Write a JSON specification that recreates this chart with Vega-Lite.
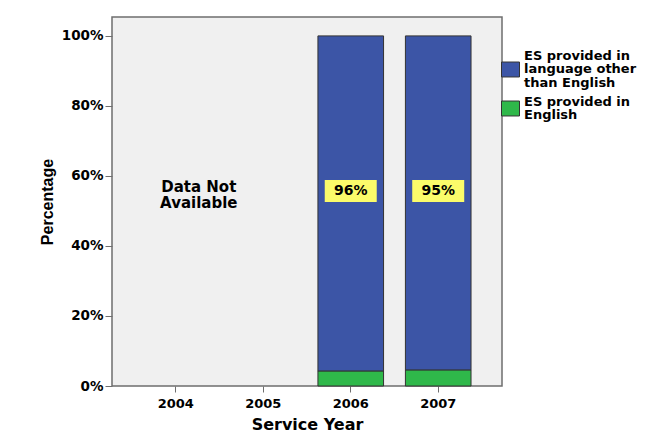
{
  "$schema": "https://vega.github.io/schema/vega-lite/v6.json",
  "width": 390,
  "height": 369,
  "autosize": "none",
  "padding": {"left": 112, "top": 17, "right": 165, "bottom": 56},
  "background": "white",
  "config": {
    "font": "DejaVu Sans",
    "view": {"fill": "#f0f0f0", "stroke": "#6e6e6e", "strokeWidth": 1.5},
    "style": {"guide-label": {"lineHeight": 13.7}}
  },
  "datasets": {
    "bars": [
      {"Year": "2004", "Type": "ES provided in language other than English", "Pct": null},
      {"Year": "2005", "Type": "ES provided in language other than English", "Pct": null},
      {"Year": "2006", "Type": "ES provided in English", "Pct": 4.3},
      {"Year": "2006", "Type": "ES provided in language other than English", "Pct": 95.7},
      {"Year": "2007", "Type": "ES provided in English", "Pct": 4.6},
      {"Year": "2007", "Type": "ES provided in language other than English", "Pct": 95.4}
    ],
    "labels": [
      {"Year": "2006", "label": "96%"},
      {"Year": "2007", "label": "95%"}
    ],
    "note": [
      {"Year": "2004"}
    ]
  },
  "encoding": {
    "x": {
      "field": "Year", "type": "nominal",
      "scale": {"domain": ["2004", "2005", "2006", "2007"], "paddingInner": 0.25, "paddingOuter": 0.354},
      "axis": {
        "title": "Service Year", "labelAngle": 0, "labelFontSize": 13, "labelFontWeight": "bold",
        "labelColor": "#000", "labelPadding": 5, "titleFontSize": 16, "titleFontWeight": "bold",
        "titleColor": "#000", "titlePadding": 6, "tickColor": "#6e6e6e", "tickSize": 6,
        "domain": false
      }
    }
  },
  "layer": [
    {
      "data": {"name": "bars"},
      "mark": {"type": "bar", "stroke": "#333", "strokeWidth": 1},
      "encoding": {
        "y": {
          "field": "Pct", "type": "quantitative", "stack": "zero",
          "scale": {"domain": [0, 105.4], "nice": false, "zero": true},
          "axis": {
            "title": "Percentage", "values": [0, 20, 40, 60, 80, 100],
            "labelExpr": "datum.value + '%'", "grid": false, "domain": false,
            "labelFontSize": 13.5, "labelFontWeight": "bold", "labelColor": "#000",
            "tickColor": "#6e6e6e", "tickSize": 7, "labelPadding": 2,
            "titleFont": "Liberation Sans", "titleFontSize": 16, "titleFontWeight": "bold", "titleColor": "#000", "titlePadding": 6
          }
        },
        "color": {
          "field": "Type", "type": "nominal",
          "scale": {
            "domain": ["ES provided in language other than English", "ES provided in English"],
            "range": ["#3c55a6", "#2fb84a"]
          },
          "legend": {
            "title": null, "orient": "none", "legendX": 389, "legendY": 43, "padding": 0,
            "symbolType": "M-1,-0.83L1,-0.83L1,0.83L-1,0.83Z", "symbolSize": 324, "symbolStrokeColor": "#333",
            "symbolStrokeWidth": 1, "symbolOpacity": 1, "labelOffset": 4, "labelFontSize": 13,
            "labelFontWeight": "bold", "labelColor": "#000", "rowPadding": 4, "labelLimit": 200,
            "labelExpr": "datum.label == 'ES provided in English' ? ['ES provided in', 'English'] : ['ES provided in', 'language other', 'than English']",
            "encode": {"labels": {"update": {"dy": {"signal": "datum.value == 'ES provided in English' ? -6.8 : -13.7"}}}}
          }
        },
        "order": {"field": "Type", "sort": "ascending"}
      }
    },
    {
      "data": {"name": "labels"},
      "mark": {"type": "point", "shape": "M-1,-0.42L1,-0.42L1,0.42L-1,0.42Z", "size": 2704, "filled": true, "fill": "#fbfb6a", "opacity": 1, "strokeWidth": 0},
      "encoding": {"y": {"datum": 55.7, "type": "quantitative"}}
    },
    {
      "data": {"name": "labels"},
      "mark": {"type": "text", "fontSize": 14, "fontWeight": "bold", "color": "#000", "baseline": "middle"},
      "encoding": {"y": {"datum": 55.7, "type": "quantitative"}, "text": {"field": "label"}}
    },
    {
      "data": {"name": "note"},
      "mark": {"type": "text", "fontSize": 15, "fontWeight": "bold", "color": "#000", "baseline": "middle", "dx": 23, "lineHeight": 16.5},
      "encoding": {"y": {"datum": 56.9, "type": "quantitative"}, "text": {"value": ["Data Not", "Available"]}}
    }
  ]
}
